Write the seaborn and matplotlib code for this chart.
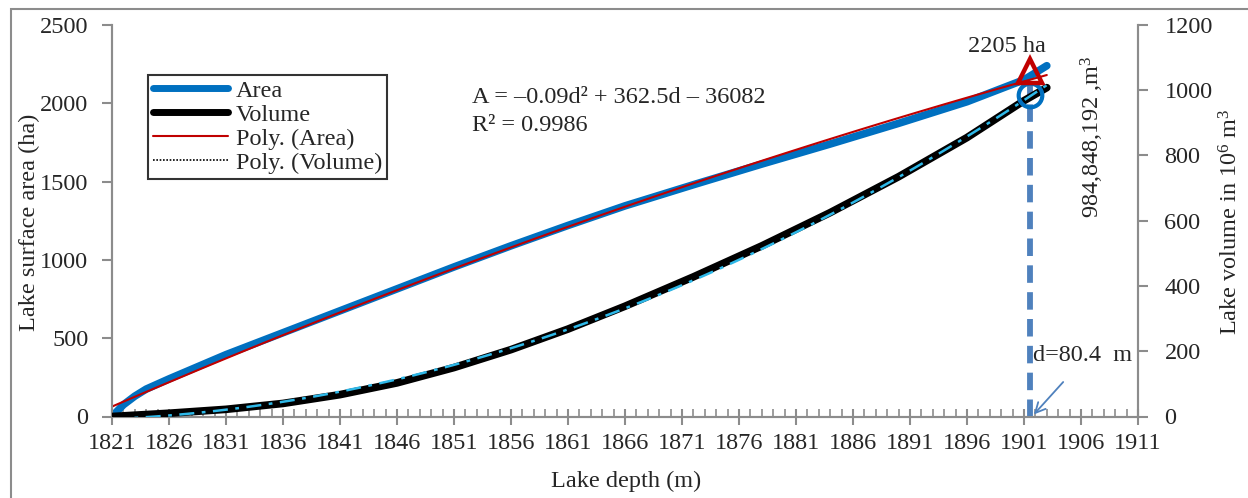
import numpy as np
import pandas as pd
import matplotlib
matplotlib.use("Agg")
import matplotlib.pyplot as plt
from matplotlib.lines import Line2D
from matplotlib.patches import Rectangle
import seaborn as sns

# ---- data ----
depth_area = [1821, 1822, 1823, 1824, 1826, 1831, 1836, 1841, 1846, 1851, 1856,
              1861, 1866, 1872, 1878, 1884, 1890, 1896, 1901, 1903]
area_ha = [0, 75, 130, 175, 240, 395, 535, 675, 815, 955, 1090,
           1220, 1345, 1480, 1612, 1740, 1872, 2010, 2150, 2240]
depth_vol = [1821, 1826, 1831, 1836, 1841, 1846, 1851, 1856, 1861, 1866, 1872,
             1878, 1884, 1890, 1896, 1901, 1903]
volume_mm3 = [0, 10, 22, 40, 67, 103, 150, 205, 268, 338, 428,
              523, 625, 735, 855, 968, 1008]
x_ticks = list(range(1821, 1912, 5))
y_left_ticks = [0, 500, 1000, 1500, 2000, 2500]
y_right_ticks = [0, 200, 400, 600, 800, 1000, 1200]
mark_depth = 1901.5
mark_area = 2205
mark_vol = 984.848192

sns.set_style("white")
plt.rcParams['font.family'] = ['Liberation Serif', 'DejaVu Serif']
plt.rcParams['mathtext.fontset'] = 'custom'
plt.rcParams['mathtext.rm'] = 'Liberation Serif'
plt.rcParams['mathtext.it'] = 'Liberation Serif:italic'

FS = 17.5
GRAY = '#8c8c8c'
BLUE = '#0070C0'
DASHBLUE = '#4F81BD'
RED = '#C00000'
CYAN = '#2EB8E8'

W, H = 1248, 498
fig = plt.figure(figsize=(W/100, H/100), dpi=100)
ax = fig.add_axes([112/W, 1-416.5/H, (1138-112)/W, (416.5-25)/H])
ax2 = ax.twinx()

df_a = pd.DataFrame({'d': depth_area, 'A': area_ha})
df_v = pd.DataFrame({'d': depth_vol, 'V': volume_mm3})

sns.lineplot(data=df_a, x='d', y='A', ax=ax, color=BLUE, linewidth=5.5,
             solid_capstyle='round', solid_joinstyle='round', zorder=3)
sns.regplot(data=df_a, x='d', y='A', ax=ax, order=2, ci=None, scatter=False,
            line_kws=dict(color=RED, linewidth=1.5, zorder=4))
sns.lineplot(data=df_v, x='d', y='V', ax=ax2, color='black', linewidth=5.5,
             solid_capstyle='round', solid_joinstyle='round', zorder=3)
sns.regplot(data=df_v, x='d', y='V', ax=ax2, order=2, ci=None, scatter=False,
            line_kws=dict(color=CYAN, linewidth=1.8, linestyle=(0, (6, 3, 1.5, 3)), zorder=4))

# vertical dashed marker line and markers
ax.plot([mark_depth, mark_depth], [0, mark_area - 60], color=DASHBLUE, linewidth=4.2,
        linestyle=(0, (3, 1.6)), zorder=5)
ax2.plot([mark_depth], [mark_vol], marker='o', markersize=17, markerfacecolor='none',
         markeredgecolor=BLUE, markeredgewidth=3, zorder=6)
ax2.plot([mark_depth], [mark_area / 2500 * 1200], marker='^', markersize=17,
         markerfacecolor='none', markeredgecolor=RED, markeredgewidth=3.2, zorder=6)

# axes formatting
for a in (ax, ax2):
    a.set_xlim(1821, 1911)
    for s in a.spines.values():
        s.set_color(GRAY)
        s.set_linewidth(1.5)
    a.spines['top'].set_visible(False)
    a.set_xlabel('')
    a.set_ylabel('')
    a.grid(False)
ax.set_ylim(0, 2500)
ax2.set_ylim(0, 1200)
ax.set_xticks(x_ticks)
ax.set_xticks(np.arange(1821, 1912, 1), minor=True)
ax.set_yticks(y_left_ticks)
ax2.set_yticks(y_right_ticks)
ax.tick_params(axis='x', which='major', direction='inout', length=12, width=1.5,
               color=GRAY, labelsize=FS, pad=6, bottom=True)
ax.tick_params(axis='x', which='minor', direction='in', length=6, width=1.2,
               color=GRAY, bottom=True)
ax.tick_params(axis='y', direction='out', length=7, width=1.5, color=GRAY,
               labelsize=FS, left=True, pad=10)
ax2.tick_params(axis='y', direction='out', length=7, width=1.5, color=GRAY,
                labelsize=FS, right=True, pad=12)

# axis titles
fig.text(626/W, 1-481/H, 'Lake depth (m)', fontsize=FS, ha='center', va='center')
fig.text(29/W, 1-222/H, 'Lake surface area (ha)', fontsize=FS, rotation=90,
         ha='center', va='center')
fig.text(1231/W, 1-222/H, 'Lake volume in 10$^6$ m$^3$', fontsize=FS, rotation=90,
         ha='center', va='center')

# annotations
ax.text(1899.5, 2360, '2205 ha', fontsize=FS, ha='center', va='center')
ax.text(1852.6, 2040, 'A = \u20130.09d\u00b2 + 362.5d \u2013 36082', fontsize=FS,
        ha='left', va='center')
ax.text(1852.6, 1860, 'R\u00b2 = 0.9986', fontsize=FS, ha='left', va='center')
ax2.text(1901.8, 188, 'd=80.4  m', fontsize=FS, ha='left', va='center')
ax2.annotate('', xy=(mark_depth + 0.2, 0), xytext=(1904.6, 112),
             arrowprops=dict(arrowstyle='->', color=DASHBLUE, lw=1.3,
                             mutation_scale=18))
fig.text(1092/W, 1-137/H, '984,848,192 ,m$^3$', fontsize=FS, rotation=90,
         ha='center', va='center')

# legend
handles = [
    Line2D([], [], color=BLUE, linewidth=5, solid_capstyle='round'),
    Line2D([], [], color='black', linewidth=5, solid_capstyle='round'),
    Line2D([], [], color=RED, linewidth=1.5),
    Line2D([], [], color='black', linewidth=1.2, linestyle=(0, (1, 1))),
]
labels = ['Area', 'Volume', 'Poly. (Area)', 'Poly. (Volume)']
leg = fig.legend(handles, labels, loc='upper left',
                 bbox_to_anchor=(148/W, 1-75/H), fontsize=FS,
                 frameon=True, fancybox=False, edgecolor='black',
                 handlelength=3.1, handletextpad=0.3, labelspacing=0.08,
                 borderpad=0.2, borderaxespad=0)
leg.get_frame().set_linewidth(1.5)

# outer border
fig.patches.append(Rectangle((11/W, -0.05), 1.1, 1 - 9/H + 0.05,
                             transform=fig.transFigure, fill=False,
                             edgecolor=GRAY, linewidth=1.5))

fig.savefig('out.png', dpi=100)
